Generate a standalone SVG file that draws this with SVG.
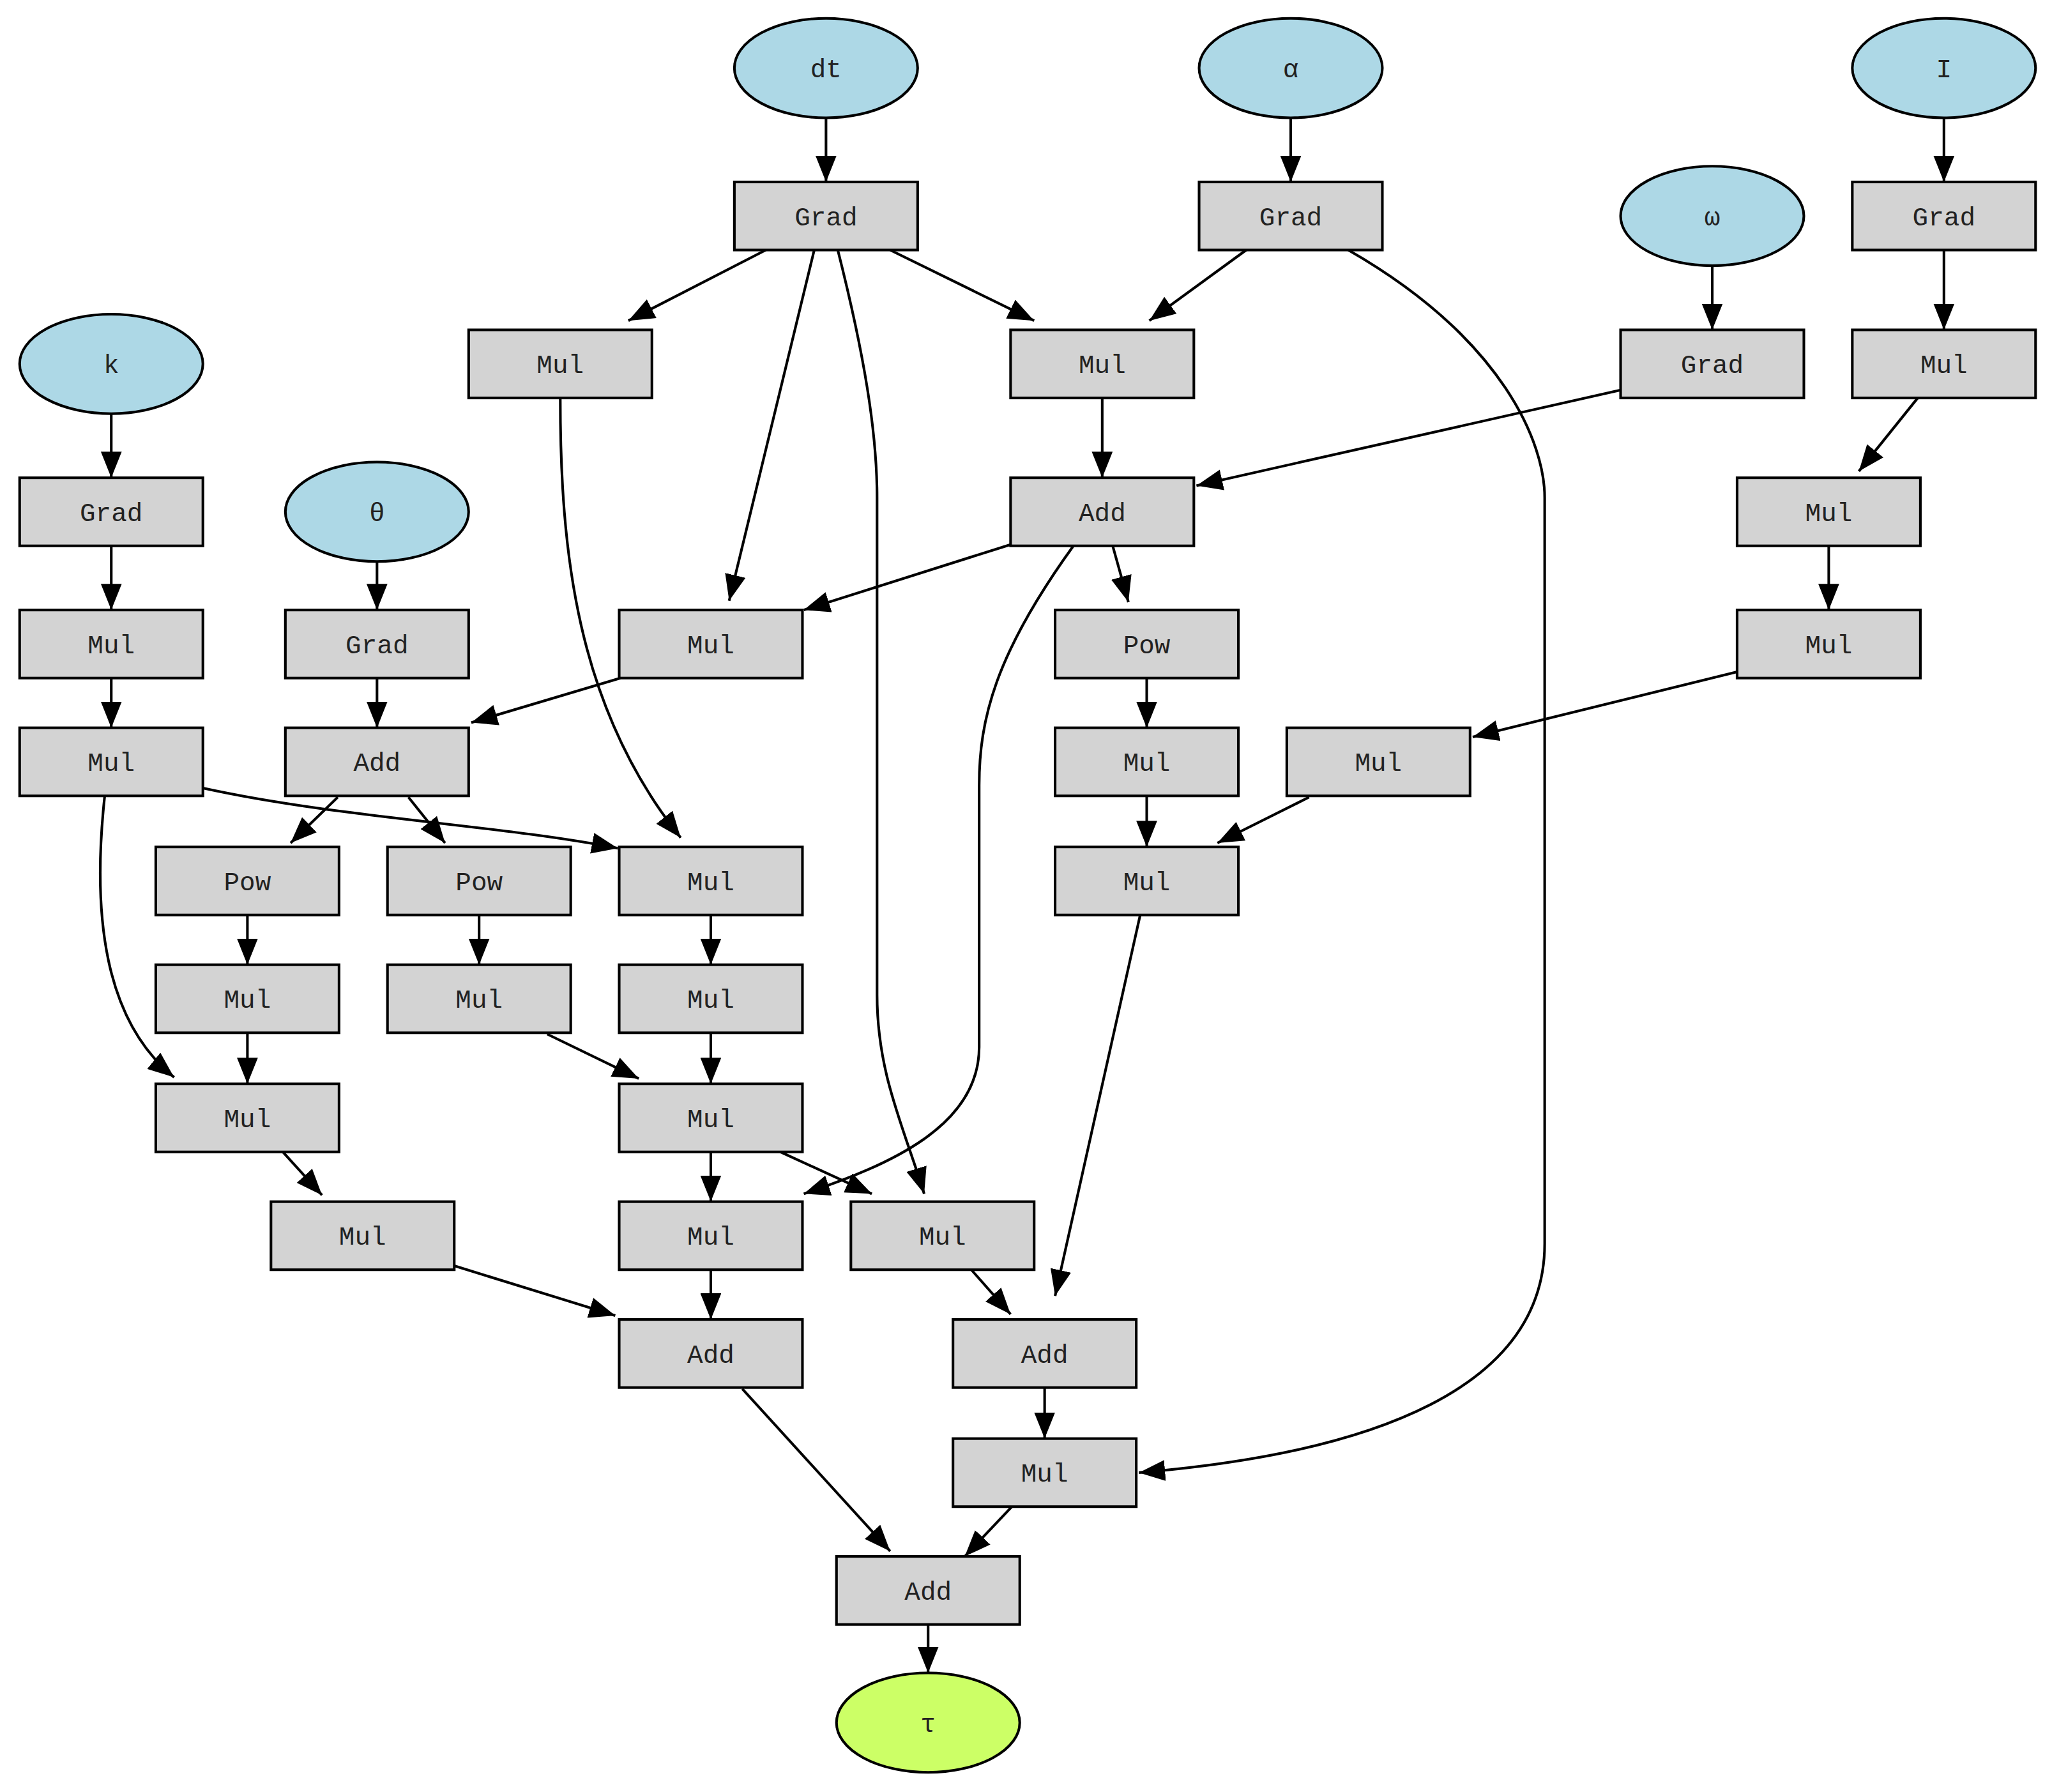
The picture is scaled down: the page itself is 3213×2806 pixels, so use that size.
<svg xmlns="http://www.w3.org/2000/svg" width="3213" height="2806" viewBox="0 0 3213 2806">
<style>
.b{fill:#d3d3d3;stroke:#000;stroke-width:2}
.e{fill:#add8e6;stroke:#000;stroke-width:2}
.o{fill:#ccff66;stroke:#000;stroke-width:2}
text{font-family:"Liberation Mono","DejaVu Sans Mono",monospace;font-size:20px;text-anchor:middle;fill:#222}
.c path{fill:none;stroke:#000;stroke-width:2;marker-end:url(#a)}
</style>
<defs><marker id="a" markerWidth="10" markerHeight="8" refX="10" refY="4" orient="auto" markerUnits="strokeWidth"><path d="M0,0 L10,4 L0,8 Z" fill="#000"/></marker></defs>
<rect width="3213" height="2806" fill="#fff"/>
<g transform="scale(2.0497)">
<g class="c" id="edges">
<path d="M631,90 L631,139"/>
<path d="M986,90 L986,139"/>
<path d="M1485,90 L1485,139"/>
<path d="M1308,203 L1308,252"/>
<path d="M85,316 L85,365"/>
<path d="M288,429 L288,466"/>
<path d="M585,191 L480,245"/>
<path d="M680,191 L790,245"/>
<path d="M622,191 L557,459"/>
<path d="M640,191 C660,270 670,330 670,380 L670,760 C670,820 690,860 706,912"/>
<path d="M952,191 L878,245"/>
<path d="M1030,191 C1150,260 1180,340 1180,380 L1180,950 C1180,1060 1050,1110 870,1125"/>
<path d="M1485,191 L1485,252"/>
<path d="M1238,298 L914,371"/>
<path d="M842,304 L842,365"/>
<path d="M1465,304 L1420,360"/>
<path d="M772,416 L614,466"/>
<path d="M850,417 L862,460"/>
<path d="M820,417 C760,500 748,550 748,600 L748,800 C748,860 680,890 614,912"/>
<path d="M1397,417 L1397,466"/>
<path d="M1328,513 L1125,563"/>
<path d="M85,417 L85,466"/>
<path d="M85,518 L85,556"/>
<path d="M288,518 L288,556"/>
<path d="M474,518 L360,552"/>
<path d="M876,518 L876,556"/>
<path d="M876,608 L876,647"/>
<path d="M1000,609 L930,644"/>
<path d="M428,304 C428,420 440,540 520,640"/>
<path d="M155,602 C260,625 380,630 472,648"/>
<path d="M80,608 C70,700 80,780 133,823"/>
<path d="M258,609 L222,644"/>
<path d="M312,609 L340,644"/>
<path d="M189,699 L189,737"/>
<path d="M366,699 L366,737"/>
<path d="M543,699 L543,737"/>
<path d="M189,789 L189,828"/>
<path d="M543,789 L543,828"/>
<path d="M418,790 L488,824"/>
<path d="M216,880 L246,913"/>
<path d="M543,880 L543,918"/>
<path d="M596,880 L666,912"/>
<path d="M871,699 L806,990"/>
<path d="M347,967 L470,1005"/>
<path d="M543,970 L543,1008"/>
<path d="M742,970 L772,1004"/>
<path d="M798,1060 L798,1099"/>
<path d="M567,1061 L680,1185"/>
<path d="M773,1151 L737,1189"/>
<path d="M709,1241 L709,1278"/>
</g>
<g id="n_dt"><ellipse class="e" cx="631" cy="52" rx="70" ry="38"/><text x="631" y="59">dt</text></g>
<g id="n_alpha"><ellipse class="e" cx="986" cy="52" rx="70" ry="38"/><text x="986" y="59">α</text></g>
<g id="n_I"><ellipse class="e" cx="1485" cy="52" rx="70" ry="38"/><text x="1485" y="59">I</text></g>
<g id="n_omega"><ellipse class="e" cx="1308" cy="165" rx="70" ry="38"/><text x="1308" y="172">ω</text></g>
<g id="n_k"><ellipse class="e" cx="85" cy="278" rx="70" ry="38"/><text x="85" y="285">k</text></g>
<g id="n_theta"><ellipse class="e" cx="288" cy="391" rx="70" ry="38"/><text x="288" y="398">θ</text></g>
<g id="n_tau"><ellipse class="o" cx="709" cy="1316" rx="70" ry="38"/><text x="709" y="1323">τ</text></g>
<g id="b1"><rect class="b" x="561" y="139" width="140" height="52"/><text x="631" y="172">Grad</text></g>
<g id="b2"><rect class="b" x="916" y="139" width="140" height="52"/><text x="986" y="172">Grad</text></g>
<g id="b3"><rect class="b" x="1415" y="139" width="140" height="52"/><text x="1485" y="172">Grad</text></g>
<g id="b4"><rect class="b" x="358" y="252" width="140" height="52"/><text x="428" y="285">Mul</text></g>
<g id="b5"><rect class="b" x="772" y="252" width="140" height="52"/><text x="842" y="285">Mul</text></g>
<g id="b6"><rect class="b" x="1238" y="252" width="140" height="52"/><text x="1308" y="285">Grad</text></g>
<g id="b7"><rect class="b" x="1415" y="252" width="140" height="52"/><text x="1485" y="285">Mul</text></g>
<g id="b8"><rect class="b" x="15" y="365" width="140" height="52"/><text x="85" y="398">Grad</text></g>
<g id="b9"><rect class="b" x="772" y="365" width="140" height="52"/><text x="842" y="398">Add</text></g>
<g id="b10"><rect class="b" x="1327" y="365" width="140" height="52"/><text x="1397" y="398">Mul</text></g>
<g id="b11"><rect class="b" x="15" y="466" width="140" height="52"/><text x="85" y="499">Mul</text></g>
<g id="b12"><rect class="b" x="218" y="466" width="140" height="52"/><text x="288" y="499">Grad</text></g>
<g id="b13"><rect class="b" x="473" y="466" width="140" height="52"/><text x="543" y="499">Mul</text></g>
<g id="b14"><rect class="b" x="806" y="466" width="140" height="52"/><text x="876" y="499">Pow</text></g>
<g id="b15"><rect class="b" x="1327" y="466" width="140" height="52"/><text x="1397" y="499">Mul</text></g>
<g id="b16"><rect class="b" x="15" y="556" width="140" height="52"/><text x="85" y="589">Mul</text></g>
<g id="b17"><rect class="b" x="218" y="556" width="140" height="52"/><text x="288" y="589">Add</text></g>
<g id="b18"><rect class="b" x="806" y="556" width="140" height="52"/><text x="876" y="589">Mul</text></g>
<g id="b19"><rect class="b" x="983" y="556" width="140" height="52"/><text x="1053" y="589">Mul</text></g>
<g id="b20"><rect class="b" x="119" y="647" width="140" height="52"/><text x="189" y="680">Pow</text></g>
<g id="b21"><rect class="b" x="296" y="647" width="140" height="52"/><text x="366" y="680">Pow</text></g>
<g id="b22"><rect class="b" x="473" y="647" width="140" height="52"/><text x="543" y="680">Mul</text></g>
<g id="b23"><rect class="b" x="806" y="647" width="140" height="52"/><text x="876" y="680">Mul</text></g>
<g id="b24"><rect class="b" x="119" y="737" width="140" height="52"/><text x="189" y="770">Mul</text></g>
<g id="b25"><rect class="b" x="296" y="737" width="140" height="52"/><text x="366" y="770">Mul</text></g>
<g id="b26"><rect class="b" x="473" y="737" width="140" height="52"/><text x="543" y="770">Mul</text></g>
<g id="b27"><rect class="b" x="119" y="828" width="140" height="52"/><text x="189" y="861">Mul</text></g>
<g id="b28"><rect class="b" x="473" y="828" width="140" height="52"/><text x="543" y="861">Mul</text></g>
<g id="b29"><rect class="b" x="207" y="918" width="140" height="52"/><text x="277" y="951">Mul</text></g>
<g id="b30"><rect class="b" x="473" y="918" width="140" height="52"/><text x="543" y="951">Mul</text></g>
<g id="b31"><rect class="b" x="650" y="918" width="140" height="52"/><text x="720" y="951">Mul</text></g>
<g id="b32"><rect class="b" x="473" y="1008" width="140" height="52"/><text x="543" y="1041">Add</text></g>
<g id="b33"><rect class="b" x="728" y="1008" width="140" height="52"/><text x="798" y="1041">Add</text></g>
<g id="b34"><rect class="b" x="728" y="1099" width="140" height="52"/><text x="798" y="1132">Mul</text></g>
<g id="b35"><rect class="b" x="639" y="1189" width="140" height="52"/><text x="709" y="1222">Add</text></g>
</g>
</svg>
